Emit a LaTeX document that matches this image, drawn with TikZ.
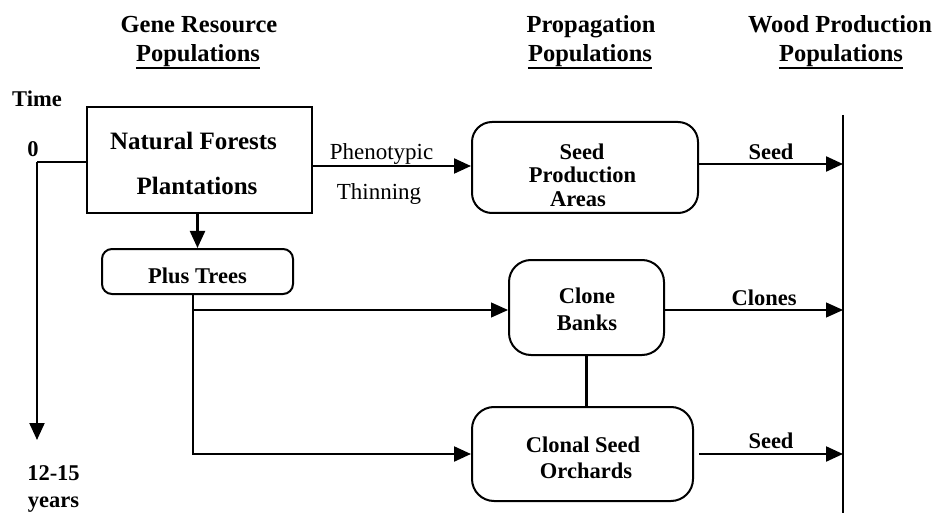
\documentclass[tikz,border=0pt]{standalone}
\usepackage{fontspec}
\setmainfont{Liberation Serif}
\usetikzlibrary{arrows.meta}

\begin{document}
\begin{tikzpicture}[x=1pt,y=-1pt,
  head/.style={font=\fontsize{24.5}{28}\selectfont\bfseries, inner sep=0pt, anchor=base},
  lbl/.style={font=\fontsize{22.5}{26}\selectfont\bfseries, inner sep=0pt, anchor=base},
  biglbl/.style={font=\fontsize{25}{28}\selectfont\bfseries, inner sep=0pt, anchor=base},
  plainlbl/.style={font=\fontsize{23}{26}\selectfont, inner sep=0pt, anchor=base},
  sqbox/.style={draw, line width=2pt, inner sep=0pt},
  rbox/.style={draw, line width=2pt, inner sep=0pt, rounded corners=#1},
  heavy/.style={line width=2.2pt},
  light/.style={line width=1.2pt},
  tip/.style={-{Triangle[length=17pt,width=15pt]}}
]
\useasboundingbox (0,0) rectangle (937,513);

% column headings
\node[head] (h1a) at (199,33) {Gene Resource};
\node[head] (h1b) at (198,62) {Populations};
\node[head] (h2a) at (591,33) {Propagation};
\node[head] (h2b) at (590,62) {Populations};
\node[head] (h3a) at (840,33) {Wood Production};
\node[head] (h3b) at (841,62) {Populations};
\foreach \h in {h1b,h2b,h3b}
  \draw[line width=1.6pt] ([yshift=-6pt]\h.base west) -- ([yshift=-6pt]\h.base east);

% time axis
\node[lbl] (time) at (37,107) {Time};
\node[lbl] (zero) at (33,157) {0};
\node[lbl] (y1) at (53.5,480) {12-15};
\node[lbl] (y2) at (53.5,507) {years};
\coordinate (t0) at (37,162);
\coordinate (tend) at (37,440);

% boxes
\node[sqbox, minimum width=225pt, minimum height=106pt] (nf) at (199.5,160) {};
\node[rbox=10pt, minimum width=191pt, minimum height=45pt] (pt) at (197.5,271.5) {};
\node[rbox=20pt, minimum width=226pt, minimum height=91pt] (spa) at (585,167.5) {};
\node[rbox=22pt, minimum width=155pt, minimum height=95pt] (cb) at (586.5,307.5) {};
\node[rbox=22pt, minimum width=221pt, minimum height=94pt] (cso) at (582.5,454) {};

% box texts
\node[biglbl] (nft1) at (193.5,150) {Natural Forests};
\node[biglbl] (nft2) at (197,195) {Plantations};
\node[lbl] (ptt) at (197.5,283) {Plus Trees};
\node[lbl] (spa1) at (582,160) {Seed};
\node[lbl] (spa2) at (582.5,183) {Production};
\node[lbl] (spa3) at (578,207) {Areas};
\node[lbl] (cb1) at (587,303) {Clone};
\node[lbl] (cb2) at (587,330) {Banks};
\node[lbl] (cso1) at (583,452) {Clonal Seed};
\node[lbl] (cso2) at (586,478) {Orchards};

% edge labels
\node[plainlbl] (ph1) at (381.5,160) {Phenotypic};
\node[plainlbl] (ph2) at (379,200) {Thinning};
\node[lbl] (sd1) at (771,160) {Seed};
\node[lbl] (cl) at (764,305) {Clones};
\node[lbl] (sd2) at (771,448) {Seed};

% wood production boundary
\coordinate (wtop) at (843,115);
\coordinate (wbot) at (843,513);
\draw[light] (wtop) -- (wbot);

% connectors
\draw[heavy] (t0) -- (t0 -| nf.west);
\draw[heavy, tip] (t0) -- (tend);
\draw[heavy, tip] (nf.south -| pt.north) -- (pt.north);
\draw[heavy, tip] (nf.east |- 0,166) -- (spa.west |- 0,166);
\draw[heavy, tip] (spa.east |- 0,164) -- (wtop |- 0,164);
\coordinate (branch) at (193,310);
\draw[heavy, tip] ([xshift=-4.5pt]pt.south) |- (cso.west);
\draw[light, tip] (branch) -- (cb.west |- branch);
\draw[light, tip] (cb.east |- branch) -- (wtop |- branch);
\draw[heavy] (cb.south) -- (cb.south |- cso.north);
\draw[heavy, tip] ([xshift=5pt]cso.east) -- (wtop |- cso.east);
\end{tikzpicture}
\end{document}
